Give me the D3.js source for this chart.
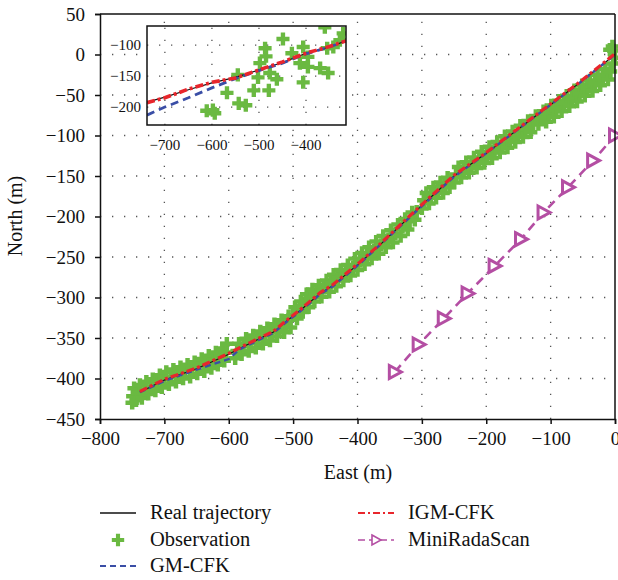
<!DOCTYPE html>
<html><head><meta charset="utf-8">
<script src="https://cdn.jsdelivr.net/npm/d3@7"></script>
<style>
body{margin:0;background:#fff;}
svg text{font-family:"Liberation Serif","DejaVu Serif",serif;fill:#111;}
</style></head>
<body><svg id="c" width="618" height="580"></svg>
<script>
// ---------- data ----------
const xTicks = [-800,-700,-600,-500,-400,-300,-200,-100,0];
const yTicks = [-450,-400,-350,-300,-250,-200,-150,-100,-50,0,50];
const insetXTicks = [-700,-600,-500,-400];
const insetYTicks = [-100,-150,-200];

const truthX = [-738,-700,-650,-600,-583,-550,-531,-510,-489,-458,-438,-396,-365,-320,-290,-250,-200,-150,-100,-50,0];
const truthY = [-417,-402,-388,-370,-363,-350,-343,-329,-316,-295,-285,-257,-235,-201,-179,-150,-122,-92,-62,-32,0];
const gmY    = [-417,-403,-389,-376,-364,-351,-344,-330,-317,-296,-286,-258,-235,-202,-180,-151,-122,-92,-62,-32,0];
const igmY   = [-416,-401,-387,-369,-362,-349,-342,-328,-315,-294,-284,-256,-234,-200,-178,-149,-121,-91,-61,-31,1];

const radaX = [-342,-305,-266,-229,-187,-146,-111,-73,-34,0];
const radaY = [-392,-358,-326,-295,-261,-228,-195,-164,-131,-100];

const observations = [
[-750,-430],[-749,-422],[-747,-412],[-744,-427],[-741,-418],[-738,-408],[-735,-424],[-731,-414],[-728,-404],[-725,-419],[-721,-410],[-718,-401],[-714,-415],[-711,-405],[-707,-396],[-704,-411],[-700,-401],[-697,-392],[-693,-407],[-690,-398],[-686,-389],[-682,-404],[-679,-394],[-675,-386],[-671,-400],[-668,-391],[-664,-383],[-660,-398],[-657,-388],[-653,-380],[-649,-394],[-646,-385],[-642,-376],[-638,-391],[-635,-381],[-631,-372],[-627,-387],[-624,-377],[-620,-368],[-617,-383],[-613,-373],[-610,-363],[-607,-378],[-604,-368],[-603,-357],
[-590,-375],[-587,-366],[-584,-357],[-580,-370],[-577,-360],[-573,-351],[-569,-366],[-566,-356],[-562,-347],[-558,-362],[-555,-352],[-551,-342],[-547,-357],[-544,-347],[-540,-338],[-536,-353],[-533,-343],[-529,-333],[-525,-348],[-522,-338],[-518,-328],[-514,-343],[-511,-333],[-507,-323],[-504,-337],
[-500,-322],[-497,-312],[-494,-326],[-491,-316],[-488,-305],[-485,-318],[-482,-307],[-479,-296],[-476,-312],[-473,-300],[-470,-290],[-467,-305],[-463,-294],[-460,-285],[-456,-299],[-452,-288],[-448,-279],[-444,-293],[-441,-282],[-437,-272],[-433,-286],[-430,-276],[-426,-266],[-422,-279],
[-418,-270],[-415,-260],[-411,-273],[-407,-263],[-404,-252],[-400,-266],[-396,-255],[-393,-245],[-389,-259],[-385,-248],[-382,-238],[-378,-252],[-374,-242],[-371,-231],[-367,-246],[-363,-235],[-360,-224],[-356,-238],[-352,-228],[-348,-217],[-345,-232],[-341,-221],[-337,-210],[-333,-224],[-330,-213],[-326,-203],[-322,-216],[-319,-206],[-315,-195],[-311,-204],[-308,-194],
[-300,-190],[-297,-180],[-293,-171],[-289,-184],[-286,-174],[-282,-164],[-278,-177],[-275,-167],[-271,-158],[-267,-171],[-264,-161],[-260,-152],[-257,-164],
[-250,-158],[-247,-148],[-243,-139],[-239,-152],[-235,-142],[-231,-133],[-227,-146],[-223,-136],[-219,-127],[-215,-140],[-211,-130],[-207,-120],[-203,-134],[-199,-124],[-195,-114],[-191,-128],[-187,-118],[-183,-108],[-179,-121],[-175,-111],[-171,-101],[-167,-115],[-163,-105],[-159,-95],[-155,-108],[-151,-98],[-147,-88],[-143,-102],[-139,-92],[-135,-82],[-131,-96],[-127,-86],[-123,-76],[-119,-86],[-115,-79],[-111,-70],[-107,-83],[-103,-73],[-99,-63],[-95,-77],[-91,-67],[-87,-57],[-83,-70],[-79,-60],[-75,-51],[-71,-64],[-67,-54],[-63,-44],[-59,-58],[-55,-48],[-51,-38],[-47,-51],[-43,-41],[-39,-32],[-35,-45],[-31,-35],[-27,-25],[-23,-38],[-19,-28],[-15,-18],[-11,-31],[-7,-21],[-3,-11],[0,-4],[-2,5],[-8,6],[-4,10]
];

// inset data
const insetTruthX = [-738,-700,-650,-600,-550,-500,-450,-400,-350,-315];
const insetTruthY = [-192,-184,-172,-161,-152,-140,-128,-113,-103,-93];
const insetGmY    = [-213,-200,-185,-169,-154,-141,-129,-114,-103,-93];
const insetIgmY   = [-193,-185,-171,-160,-153,-140,-127,-113,-102,-93];
const insetObs = [
[-611,-206],[-594,-210],[-598,-205],[-568,-177],[-543,-194],[-528,-197],[-545,-148],[-511,-173],[-502,-152],[-498,-129],[-487,-105],[-485,-118],[-477,-145],[-462,-155],[-479,-173],[-449,-90],[-430,-113],[-406,-103],[-396,-119],[-413,-129],[-396,-135],[-406,-160],[-370,-137],[-353,-145],[-360,-71],[-328,-92],[-321,-81],[-342,-103],[-355,-105]
];

// legend
const legendItems = ["Real trajectory","Observation","GM-CFK","IGM-CFK","MiniRadaScan"];

// ---------- styles ----------
const C = {green:"#6ab941", red:"#e8262c", blue:"#3a4ea6", magenta:"#b44ea3", black:"#111"};
const svg = d3.select("#c");

const x = d3.scaleLinear().domain([-800,0]).range([100,615]);
const y = d3.scaleLinear().domain([-450,50]).range([419,14]);

// grid
const grid = svg.append("g");
grid.selectAll("line.v").data(xTicks.slice(1,-1)).join("line")
  .attr("x1",d=>x(d)).attr("x2",d=>x(d)).attr("y1",y(-450)).attr("y2",y(50))
  .attr("stroke","#555").attr("stroke-width",1.3).attr("stroke-dasharray","1.3,10.7");
grid.selectAll("line.h").data(yTicks.slice(1,-1)).join("line")
  .attr("y1",d=>y(d)).attr("y2",d=>y(d)).attr("x1",x(-800)).attr("x2",x(0))
  .attr("stroke","#555").attr("stroke-width",1.3).attr("stroke-dasharray","1.3,10.7");

const cross = d3.symbol().type(d3.symbolCross).size(100);

// observations
svg.append("g").selectAll("path").data(observations).join("path")
  .attr("d",cross).attr("transform",d=>`translate(${x(d[0])},${y(d[1])})`)
  .attr("fill",C.green);

const line = d3.line().x(d=>x(d[0])).y(d=>y(d[1]));
const zip = (a,b)=>a.map((v,i)=>[v,b[i]]);

svg.append("path").attr("d",line(zip(truthX,truthY))).attr("fill","none").attr("stroke",C.black).attr("stroke-width",1.1);
svg.append("path").attr("d",line(zip(truthX,gmY))).attr("fill","none").attr("stroke",C.blue).attr("stroke-width",2.4).attr("stroke-dasharray","6,4");
svg.append("path").attr("d",line(zip(truthX,igmY))).attr("fill","none").attr("stroke",C.red).attr("stroke-width",3.2).attr("stroke-dasharray","8,3,3,3");

// MiniRadaScan
const tri = "M-5.5,-6.5L6.5,0L-5.5,6.5Z";
svg.append("path").attr("d",line(zip(radaX,radaY))).attr("fill","none").attr("stroke",C.magenta).attr("stroke-width",2.6).attr("stroke-dasharray","9,6");
svg.append("g").selectAll("path").data(zip(radaX,radaY)).join("path")
  .attr("d",tri).attr("transform",d=>`translate(${x(d[0])},${y(d[1])})`)
  .attr("fill","#fff").attr("stroke",C.magenta).attr("stroke-width",3).attr("stroke-linejoin","miter");

// axes
const fs = 19;
const ax = svg.append("g").attr("transform",`translate(0,${y(-450)})`)
  .call(d3.axisBottom(x).tickValues(xTicks).tickSize(5).tickPadding(8).tickFormat(d3.format("d")));
const ay = svg.append("g").attr("transform",`translate(${x(-800)},0)`)
  .call(d3.axisLeft(y).tickValues(yTicks).tickSize(5).tickPadding(10).tickFormat(d3.format("d")));
[ax,ay].forEach(a=>{
  a.select(".domain").attr("stroke",C.black).attr("stroke-width",1.5);
  a.selectAll(".tick line").attr("stroke",C.black).attr("stroke-width",1.5);
  a.selectAll("text").attr("font-size",fs).attr("font-family","Liberation Serif").attr("fill","#111");
});
// box top/right
svg.append("line").attr("x1",x(-800)).attr("x2",x(0)).attr("y1",y(50)).attr("y2",y(50)).attr("stroke",C.black).attr("stroke-width",1.5);
svg.append("line").attr("x1",x(0)).attr("x2",x(0)).attr("y1",y(50)).attr("y2",y(-450)).attr("stroke",C.black).attr("stroke-width",1.5);

svg.append("text").attr("x",358).attr("y",479).attr("text-anchor","middle").attr("font-size",20).text("East (m)");
svg.append("text").attr("transform","translate(22,216) rotate(-90)").attr("text-anchor","middle").attr("font-size",20).text("North (m)");

// ---------- inset ----------
const ix = d3.scaleLinear().domain([-738,-315]).range([147,346]);
const iy = d3.scaleLinear().domain([-229,-69]).range([125,26]);
const ins = svg.append("g");
ins.append("rect").attr("x",147).attr("y",26).attr("width",199).attr("height",99).attr("fill","#fff");
const ig = ins.append("g");
ig.selectAll("line.v").data(insetXTicks).join("line")
  .attr("x1",d=>ix(d)).attr("x2",d=>ix(d)).attr("y1",125).attr("y2",26)
  .attr("stroke","#555").attr("stroke-width",1.3).attr("stroke-dasharray","1.3,10.7");
ig.selectAll("line.h").data(insetYTicks).join("line")
  .attr("y1",d=>iy(d)).attr("y2",d=>iy(d)).attr("x1",147).attr("x2",346)
  .attr("stroke","#555").attr("stroke-width",1.3).attr("stroke-dasharray","1.3,10.7");
ins.append("clipPath").attr("id","ic").append("rect").attr("x",147).attr("y",26).attr("width",199).attr("height",99);
const ic = ins.append("g").attr("clip-path","url(#ic)");
const icross = d3.symbol().type(d3.symbolCross).size(95);
ic.selectAll("path.o").data(insetObs).join("path").attr("class","o")
  .attr("d",icross).attr("transform",d=>`translate(${ix(d[0])},${iy(d[1])})`).attr("fill",C.green);
const iline = d3.line().x(d=>ix(d[0])).y(d=>iy(d[1]));
ic.append("path").attr("d",iline(zip(insetTruthX,insetTruthY))).attr("fill","none").attr("stroke",C.black).attr("stroke-width",1.2);
ic.append("path").attr("d",iline(zip(insetTruthX,insetGmY))).attr("fill","none").attr("stroke",C.blue).attr("stroke-width",2.8).attr("stroke-dasharray","8,5");
ic.append("path").attr("d",iline(zip(insetTruthX,insetIgmY))).attr("fill","none").attr("stroke",C.red).attr("stroke-width",3.6).attr("stroke-dasharray","8,3,3,3");
ins.append("rect").attr("x",147).attr("y",26).attr("width",199).attr("height",99).attr("fill","none").attr("stroke",C.black).attr("stroke-width",1.5);
ins.selectAll("text.ix").data(insetXTicks).join("text").attr("class","ix")
  .attr("x",d=>ix(d)).attr("y",150).attr("text-anchor","middle").attr("font-size",15).text(d3.format("d"));
ins.selectAll("text.iy").data(insetYTicks).join("text").attr("class","iy")
  .attr("x",141).attr("y",d=>iy(d)+5).attr("text-anchor","end").attr("font-size",15).text(d3.format("d"));

// ---------- legend ----------
const lg = svg.append("g");
const rows = [
  {t:legendItems[0], x0:100, cy:513, kind:"line", stroke:C.black, dash:null, w:1.5},
  {t:legendItems[1], x0:100, cy:540, kind:"cross"},
  {t:legendItems[2], x0:100, cy:566, kind:"line", stroke:C.blue, dash:"6,4", w:1.8},
  {t:legendItems[3], x0:358, cy:513, kind:"line", stroke:C.red, dash:"7,3,2,3", w:1.8},
  {t:legendItems[4], x0:358, cy:540, kind:"tri"}
];
rows.forEach(r=>{
  if(r.kind==="line"){
    lg.append("line").attr("x1",r.x0).attr("x2",r.x0+36).attr("y1",r.cy).attr("y2",r.cy)
      .attr("stroke",r.stroke).attr("stroke-width",r.w).attr("stroke-dasharray",r.dash);
  } else if(r.kind==="cross"){
    lg.append("path").attr("d",d3.symbol().type(d3.symbolCross).size(85)()).attr("transform",`translate(${r.x0+18},${r.cy})`).attr("fill",C.green);
  } else {
    lg.append("line").attr("x1",r.x0).attr("x2",r.x0+36).attr("y1",r.cy).attr("y2",r.cy)
      .attr("stroke",C.magenta).attr("stroke-width",1.6).attr("stroke-dasharray","7,4");
    lg.append("path").attr("d","M-4,-5L5,0L-4,5Z").attr("transform",`translate(${r.x0+18},${r.cy})`)
      .attr("fill","#fff").attr("stroke",C.magenta).attr("stroke-width",1.6);
  }
  lg.append("text").attr("x",r.x0+50).attr("y",r.cy+6).attr("font-size",20.5).text(r.t);
});
</script></body></html>
